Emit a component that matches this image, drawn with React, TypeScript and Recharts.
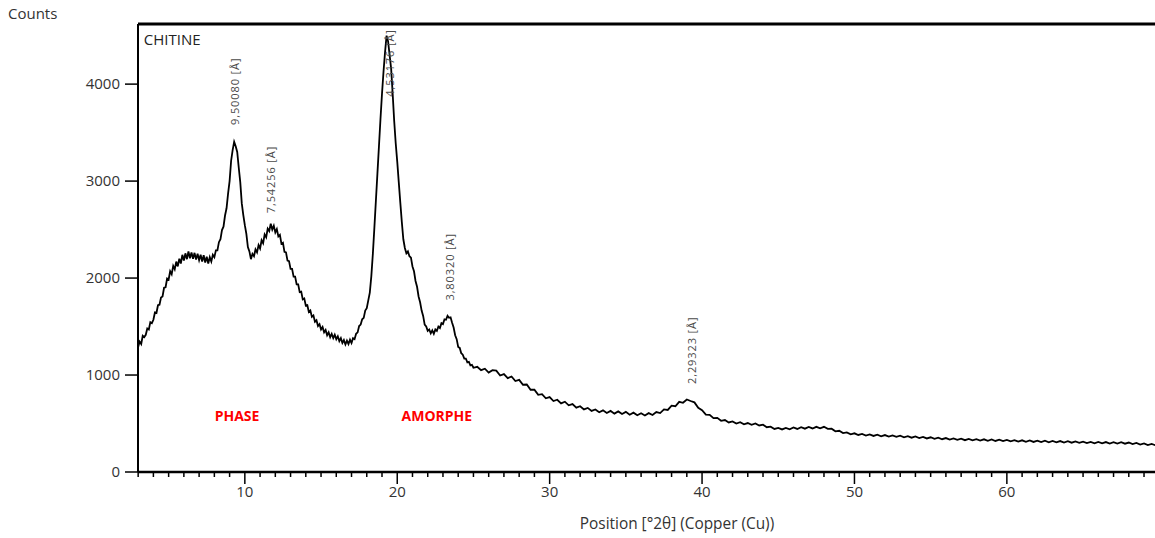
import React from 'react';
import { LineChart, Line, XAxis, YAxis, ReferenceLine, ReferenceDot, Label } from 'recharts';

// Scan segment A: 3.0 .. 25.0 °2θ, step 0.1
const SEG_A_START = 3.0;
const SEG_A_STEP = 0.1;
const countsA = [
  1290, 1345, 1320, 1405, 1390, 1415, 1480, 1470, 1545, 1535,
  1570, 1645, 1640, 1720, 1725, 1800, 1810, 1900, 1905, 1995,
  1985, 2070, 2040, 2125, 2090, 2170, 2120, 2200, 2150, 2240,
  2180, 2255, 2195, 2275, 2205, 2265, 2200, 2260, 2190, 2250,
  2185, 2240, 2170, 2235, 2160, 2220, 2150, 2215, 2170, 2240,
  2215, 2285, 2285, 2370, 2400, 2495, 2530, 2645, 2720, 2870,
  3000, 3210, 3320, 3405, 3360, 3300, 3140, 2990, 2770, 2650,
  2545, 2455, 2320, 2275, 2195, 2250, 2225, 2295, 2265, 2340,
  2305, 2390, 2360, 2450, 2420, 2510, 2485, 2560, 2500, 2540,
  2470, 2505, 2430, 2445, 2355, 2365, 2270, 2265, 2180, 2175,
  2095, 2095, 2015, 2015, 1935, 1935, 1855, 1860, 1780, 1790,
  1715, 1720, 1650, 1665, 1600, 1615, 1550, 1565, 1505, 1525,
  1470, 1495, 1440, 1465, 1410, 1440, 1390, 1425, 1380, 1415,
  1370, 1400, 1350, 1380, 1330, 1360, 1315, 1355, 1320, 1365,
  1330, 1380, 1370, 1425, 1440, 1505, 1520, 1575, 1590, 1665,
  1690, 1770, 1850, 2020, 2250, 2520, 2800, 3080, 3360, 3640,
  3900, 4130, 4330, 4500, 4440, 4300, 4160, 3900, 3620, 3390,
  3200, 2990, 2780, 2580, 2400, 2310, 2255, 2275, 2225, 2210,
  2120, 2070, 1970, 1910, 1810, 1750, 1665, 1610, 1520, 1500,
  1455, 1470, 1430, 1460, 1425, 1470, 1455, 1500, 1485, 1535,
  1525, 1575, 1570, 1610, 1590, 1595, 1540, 1490, 1410, 1370,
  1290, 1280, 1225, 1210, 1170, 1170, 1130, 1135, 1100, 1105,
  1075,
];

// Scan segment B: 25.25 .. 69.75 °2θ, step 0.25
const SEG_B_START = 25.25;
const SEG_B_STEP = 0.25;
const countsB = [
  1085, 1050, 1065, 1025,
  1050, 1045, 995, 1010,
  968, 985, 938, 950,
  900, 902, 848, 848,
  796, 802, 760, 772,
  732, 745, 708, 725,
  688, 700, 664, 678,
  646, 661, 630, 645,
  616, 636, 608, 630,
  602, 625, 598, 620,
  590, 612, 585, 606,
  583, 607, 588, 618,
  608, 646, 640, 684,
  678, 724, 714, 748,
  732, 718, 662, 638,
  592, 590, 556, 558,
  528, 536, 511, 522,
  500, 513, 492, 505,
  487, 500, 480, 488,
  462, 468, 444, 455,
  439, 455, 441, 459,
  444, 462, 447, 464,
  449, 466, 451, 466,
  445, 447, 420, 425,
  402, 409, 389, 399,
  382, 393, 376, 388,
  372, 384, 368, 381,
  365, 378, 362, 374,
  358, 370, 354, 366,
  350, 362, 346, 358,
  342, 354, 338, 350,
  334, 346, 331, 344,
  328, 341, 326, 339,
  324, 337, 322, 335,
  320, 333, 318, 331,
  316, 329, 314, 327,
  312, 325, 310, 323,
  308, 322, 307, 321,
  306, 319, 304, 317,
  302, 315, 300, 313,
  298, 311, 296, 310,
  295, 309, 294, 308,
  293, 307, 292, 304,
  288, 299, 283, 295,
  278, 289, 276,
];

const X_MIN = 2.99;
const X_MAX = 69.72;
const Y_MAX = 4620;

const xTicks = [
  3, 4, 5, 6, 7, 8, 9, 10, 11, 12, 13, 14, 15, 16, 17, 18, 19, 20, 21, 22,
  23, 24, 25, 26, 27, 28, 29, 30, 31, 32, 33, 34, 35, 36, 37, 38, 39, 40, 41,
  42, 43, 44, 45, 46, 47, 48, 49, 50, 51, 52, 53, 54, 55, 56, 57, 58, 59, 60,
  61, 62, 63, 64, 65, 66, 67, 68, 69,
];
const xMajorTicks = [10, 20, 30, 40, 50, 60];
const yTicks = [0, 1000, 2000, 3000, 4000];

const peakLabels = [
  { t: 9.34, c: 3578, text: '9,50080 [Å]' },
  { t: 11.71, c: 2668, text: '7,54256 [Å]' },
  { t: 19.52, c: 3871, text: '4,53176 [Å]' },
  { t: 23.46, c: 1768, text: '3,80320 [Å]' },
  { t: 39.33, c: 907, text: '2,29323 [Å]' },
];

const regionLabels = [
  { t: 9.49, c: 579, text: 'PHASE' },
  { t: 22.6, c: 579, text: 'AMORPHE' },
];

const sampleLabel = { t: 3.37, c: 4467, text: 'CHITINE' };

const data = [
  ...countsA.map((c, i) => ({ t: Number((SEG_A_START + i * SEG_A_STEP).toFixed(2)), c })),
  ...countsB.map((c, i) => ({ t: Number((SEG_B_START + i * SEG_B_STEP).toFixed(2)), c })),
];

const FONT = '"Open Sans", "Noto Sans", sans-serif';

const XTick = (props: any) => {
  const { x, y, payload } = props;
  const major = xMajorTicks.includes(payload.value);
  return (
    <g>
      <line x1={x} x2={x} y1={y} y2={y + (major ? 12 : 5)} stroke="#000" strokeWidth={1.5} />
      {major && (
        <text x={x} y={y + 25} textAnchor="middle" fontSize={15} fontFamily={FONT} fill="#333">
          {payload.value}
        </text>
      )}
    </g>
  );
};

export default function App() {
  return (
    <div style={{ position: 'absolute', left: 0, top: 0, width: 1155, height: 538, background: '#fff' }}>
      <LineChart width={1155} height={538} data={data} margin={{ top: 24, right: 0, bottom: 0, left: 0 }}>
        <XAxis
          dataKey="t"
          type="number"
          domain={[X_MIN, X_MAX]}
          allowDataOverflow
          ticks={xTicks}
          interval={0}
          tickSize={0}
          tickMargin={0}
          tickLine={false}
          tick={<XTick />}
          height={66}
          axisLine={{ stroke: '#000', strokeWidth: 2.5 }}
        >
          <Label
            content={(p: any) => (
              <text
                x={p.viewBox.x + 539}
                y={p.viewBox.y + 57}
                textAnchor="middle"
                fontSize={15.4}
                fontFamily={FONT}
                fill="#333"
              >
                Position [°2θ] (Copper (Cu))
              </text>
            )}
          />
        </XAxis>
        <YAxis
          type="number"
          domain={[0, Y_MAX]}
          allowDataOverflow
          ticks={yTicks}
          width={138}
          tickSize={13}
          tickMargin={5}
          tickLine={{ stroke: '#000', strokeWidth: 1.5 }}
          axisLine={{ stroke: '#000', strokeWidth: 2 }}
          tick={{ fontSize: 15, fontFamily: FONT, fill: '#333' }}
        >
          <Label
            content={(p: any) => (
              <text x={8} y={p.viewBox.y - 5} fontSize={15} fontFamily={FONT} fill="#333">
                Counts
              </text>
            )}
          />
        </YAxis>
        <ReferenceLine y={Y_MAX} stroke="#000" strokeWidth={3} />
        <Line
          type="linear"
          dataKey="c"
          stroke="#000"
          strokeWidth={1.8}
          dot={false}
          isAnimationActive={false}
        />
        <ReferenceDot
          x={sampleLabel.t}
          y={sampleLabel.c}
          r={0}
          shape={(p: any) => (
            <text x={p.cx} y={p.cy} dominantBaseline="central" fontSize={15} fontFamily={FONT} fill="#222">
              {sampleLabel.text}
            </text>
          )}
        />
        {peakLabels.map((l) => (
          <ReferenceDot
            key={l.text}
            x={l.t}
            y={l.c}
            r={0}
            shape={(p: any) => (
              <text
                x={p.cx}
                y={p.cy}
                transform={`rotate(-90 ${p.cx} ${p.cy})`}
                dominantBaseline="central"
                fontSize={11}
                letterSpacing={0.9}
                fontFamily={FONT}
                fill="#4a4a4a"
              >
                {l.text}
              </text>
            )}
          />
        ))}
        {regionLabels.map((l) => (
          <ReferenceDot
            key={l.text}
            x={l.t}
            y={l.c}
            r={0}
            shape={(p: any) => (
              <text
                x={p.cx}
                y={p.cy}
                textAnchor="middle"
                dominantBaseline="central"
                fontSize={14}
                fontWeight="bold"
                fontFamily={FONT}
                fill="#ff0000"
              >
                {l.text}
              </text>
            )}
          />
        ))}
      </LineChart>
    </div>
  );
}
